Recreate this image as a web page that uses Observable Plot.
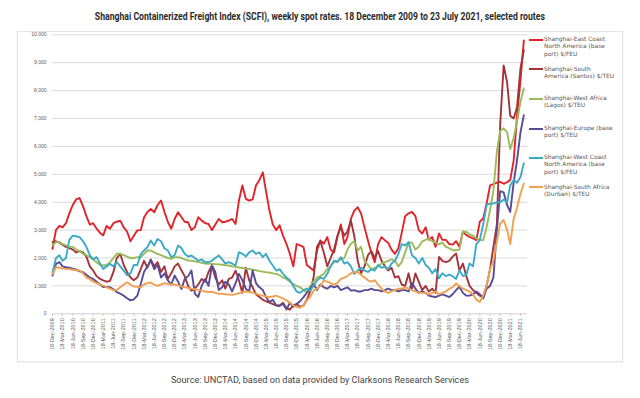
<!DOCTYPE html>
<html><head><meta charset="utf-8">
<script src="https://cdn.jsdelivr.net/npm/d3@7"></script>
<script src="https://cdn.jsdelivr.net/npm/@observablehq/plot@0.6"></script>
<style>
body{margin:0;background:#fff;}
#wrap{position:relative;width:640px;height:398px;overflow:hidden;font-family:"Liberation Sans",Arial,sans-serif;}
#title{position:absolute;left:0;top:6px;width:640px;text-align:center;white-space:nowrap;}
#title span{display:inline-block;font-family:"Liberation Sans Narrow","Roboto",sans-serif;font-weight:bold;font-size:10.5px;color:#2b2b2b;transform-origin:center;}
#box{position:absolute;left:17px;top:31px;width:604px;height:329px;border:1px solid #e4e4e4;box-shadow:0 1px 2px rgba(0,0,0,0.06);}
#chart{position:absolute;left:0;top:0;}
#legend{position:absolute;left:0;top:0;}
.sw{position:absolute;left:529px;width:14px;height:2px;}
.lt{position:absolute;left:544px;font-family:"DejaVu Sans",sans-serif;font-size:5.9px;line-height:7.3px;color:#595959;white-space:nowrap;}
#caption{position:absolute;left:0;top:369px;width:640px;text-align:center;white-space:nowrap;}
#caption span{display:inline-block;font-family:"Roboto",sans-serif;font-size:9.5px;color:#444;transform-origin:center;}
</style>
</head><body>
<div id="wrap">
  <div id="box"></div>
  <div id="chart"></div>
  <div id="legend"></div>
  <div id="title"><span>Shanghai Containerized Freight Index (SCFI), weekly spot rates. 18 December 2009 to 23 July 2021, selected routes</span></div>
  <div id="caption"><span>Source: UNCTAD, based on data provided by Clarksons Research Services</span></div>
</div>
<script>
// Series names (legend)
const seriesNames = [
  "Shanghai-East Coast North America (base port) $/FEU",
  "Shanghai-South America (Santos) $/TEU",
  "Shanghai-West Africa (Lagos) $/TEU",
  "Shanghai-Europe (base port) $/TEU",
  "Shanghai-West Coast North America (base port) $/FEU",
  "Shanghai-South Africa (Durban) $/TEU"
];
const legendLines = [
  ["Shanghai-East Coast", "North America (base", "port) $/FEU"],
  ["Shanghai-South", "America (Santos) $/TEU"],
  ["Shanghai-West Africa", "(Lagos) $/TEU"],
  ["Shanghai-Europe (base", "port) $/TEU"],
  ["Shanghai-West Coast", "North America (base", "port) $/FEU"],
  ["Shanghai-South Africa", "(Durban) $/TEU"]
];
const seriesColors = ["#e2242a", "#a3343a", "#9bbb59", "#5a4b96", "#3aaac6", "#f0a04e"];

// Approximate monthly readings, Dec 2009 – Jul 2021 (USD)
const eastCoastNA = [
  2330,3000,3150,3100,3250,3600,3900,4100,4150,3850,
  3500,3200,3250,3050,2900,2810,3150,3050,3250,3300,
  3340,3100,2950,2600,2800,2990,3000,3450,3650,3760,
  3640,3900,4060,3650,3300,3050,3400,3640,3460,3300,
  3280,3000,3100,3460,3340,3250,3220,3000,3200,3400,
  3280,3300,3340,3400,3220,4060,4600,4120,4060,4100,
  4600,4800,5070,4400,3700,3200,3000,3170,2800,2500,
  2150,1700,2500,2450,2390,1750,1650,1550,2270,2630,
  2510,2750,2300,2200,2750,3200,2500,2750,3400,3700,
  3820,3600,3100,2630,2200,1850,2500,2750,2630,2550,
  2300,2150,2350,2900,3500,3600,3650,3500,3000,2880,
  3100,2650,2750,2400,2880,2650,2650,2500,2480,2600,
  2400,2940,2820,2760,2700,2640,3300,3420,3950,4600,
  4650,4700,4730,4660,4720,4790,5500,7100,8350,9800
];
const southAmerica = [
  2570,2600,2550,2480,2400,2350,2300,2200,2250,2200,
  2050,1700,1550,1350,1250,1200,1150,1180,1500,2000,
  2150,1750,1500,1300,1200,1300,1600,1900,1650,1950,
  1700,1850,1500,1700,1250,1450,1700,1800,1550,1350,
  1000,830,900,1050,1250,1150,1500,1730,1300,1050,
  1200,900,1250,1300,1550,1200,750,1650,1200,950,
  700,600,500,450,400,350,300,300,400,200,
  150,300,350,250,300,500,800,1300,2400,2600,
  2200,1700,2000,2300,2800,3100,2800,2950,3340,2800,
  1900,1450,1700,2100,2250,2000,2250,1900,1700,1550,
  1650,1300,1350,1050,1000,1450,900,1450,1150,850,
  1000,800,900,750,2040,1900,1850,1900,2050,2160,
  1550,1800,1350,1000,850,750,650,600,1000,1600,
  2400,3200,6800,8900,8300,7100,7000,7400,8800,9450
];
const westAfrica = [
  2450,2570,2570,2500,2450,2400,2400,2300,2250,2150,
  2100,2030,1950,1850,1750,1730,1750,1850,2000,2150,
  2150,2100,2050,2000,2000,2030,2030,2150,2270,2270,
  2200,2150,2100,2050,2000,1970,2030,2030,2000,1950,
  1910,1900,1880,1850,1830,1800,1790,1790,1780,1770,
  1760,1740,1730,1700,1680,1660,1640,1620,1610,1580,
  1560,1530,1510,1490,1480,1450,1430,1380,1300,1250,
  1150,1070,1000,950,850,780,1000,1150,1300,1350,
  1430,1600,1700,1850,1900,1950,2000,2300,2510,2600,
  2270,2400,1900,1750,1600,1650,1700,1800,1850,1900,
  1950,1900,1700,1850,2200,2550,2550,2300,2400,2600,
  2650,2700,2600,2550,2500,2550,2400,2350,2280,2280,
  2300,2940,2940,2850,2800,2700,2650,2640,3100,3720,
  4400,5800,6550,6650,6500,5900,6300,6900,7600,8080
];
const europe = [
  1370,1790,1850,1700,1670,1650,1620,1580,1520,1490,
  1400,1300,1250,1150,1050,960,960,950,880,780,
  720,650,560,480,520,650,1070,1500,1700,1910,
  1600,1750,1300,1450,1200,1050,1370,1150,890,1250,
  1350,1550,720,600,1000,1250,1000,1730,1500,850,
  950,1150,1050,800,1100,1430,1200,900,800,1550,
  1100,950,850,600,420,500,300,280,350,150,
  400,250,350,450,600,750,900,1070,850,1050,
  950,900,1000,950,1000,850,900,950,830,850,
  800,800,850,850,900,850,850,800,850,900,
  850,850,800,850,850,800,1100,900,750,800,
  750,650,620,600,650,700,650,600,700,850,
  970,750,650,650,700,800,700,550,900,1000,
  1300,3000,4400,4350,3900,3650,4700,5500,6500,7120
];
const westCoastNA = [
  1490,1990,2100,1900,2000,2650,2800,2780,2750,2600,
  2400,2100,1950,2030,1800,1610,1700,1790,1700,1850,
  1700,1550,1380,1450,1750,1750,2140,2270,2390,2630,
  2450,2680,2600,2350,2270,2030,2100,2450,2350,2150,
  2050,2090,2000,1900,1950,1850,1850,1900,2000,2090,
  1950,1800,1850,1800,1730,2210,2150,2050,2200,2270,
  2150,2200,2030,2150,1900,1730,1550,1600,1430,1300,
  1200,1000,800,750,850,900,830,1000,1190,1300,
  1250,1430,1700,1910,1850,2030,1800,1850,1700,1430,
  1550,1650,1550,1500,1600,1550,1750,1650,1700,1600,
  1800,1900,2150,2500,2450,2570,2100,2000,1800,2000,
  1750,1650,1450,1600,1270,1450,1350,1400,1350,1250,
  1560,1350,1400,1800,1700,2500,2640,3200,3900,3950,
  3950,4000,4000,4100,4000,4600,4800,4700,4900,5400
];
const southAfrica = [
  1430,1670,1650,1620,1610,1600,1580,1560,1550,1450,
  1300,1250,1150,1100,1050,1010,950,900,850,850,
  950,1050,1130,1050,980,970,950,1050,1100,1120,
  1050,1000,1050,1100,1070,1050,1050,1020,980,950,
  930,900,880,850,830,800,780,790,750,720,
  720,700,690,680,700,740,780,800,780,760,
  720,680,650,620,600,620,650,600,550,480,
  400,300,240,220,300,480,600,830,900,1000,
  1190,1150,1100,1050,1100,1250,1300,1350,1450,1500,
  1490,1400,1300,1200,1150,1200,1050,900,800,750,
  800,850,900,900,950,900,850,800,750,750,
  750,700,750,800,700,750,800,900,950,1090,
  1000,900,850,800,700,500,430,650,1000,1600,
  1900,2600,3240,3360,3000,2500,3400,3800,4300,4670
];
const yTickValues = [0,1000,2000,3000,4000,5000,6000,7000,8000,9000,10000];

const allSeries = [eastCoastNA, southAmerica, westAfrica, europe, westCoastNA, southAfrica];
const start = new Date(Date.UTC(2009, 11, 18));
const dates = eastCoastNA.map((_, i) => d3.utcMonth.offset(start, i));
const xTicks = d3.range(47).map(i => d3.utcMonth.offset(start, 3 * i));
const rows = [];
allSeries.forEach((arr, s) => arr.forEach((v, i) => rows.push({date: dates[i], value: v, series: seriesNames[s]})));

const chart = Plot.plot({
  width: 640,
  height: 360,
  marginTop: 34.3,
  marginBottom: 46.7,
  marginLeft: 52,
  marginRight: 113,
  style: {background: "transparent", fontFamily: "Liberation Sans, Arial, sans-serif", color: "#595959", overflow: "visible"},
  x: {type: "utc", domain: [start, new Date(Date.UTC(2021, 7, 20))]},
  y: {domain: [0, 10000]},
  color: {domain: seriesNames, range: seriesColors},
  marks: [
    Plot.gridY(yTickValues.filter(d => d > 0), {stroke: "#d9d9d9", strokeOpacity: 1}),
    Plot.ruleY([0], {stroke: "#d0d0d0"}),
    Plot.lineY(rows, {x: "date", y: "value", z: "series", stroke: "series", strokeWidth: 1.9, strokeLinejoin: "round"}),
    Plot.axisY(yTickValues, {tickSize: 0, tickPadding: 6, fontSize: 5, tickFormat: d3.format(","), label: null, fill: "#595959"}),
    Plot.axisX(xTicks, {tickSize: 2.5, tickPadding: 2, tickRotate: -90, fontSize: 5.5, tickFormat: d3.utcFormat("%d-%b-%Y"), label: null, stroke: "#c8c8c8", fill: "#595959"})
  ]
});
document.getElementById("chart").appendChild(chart);

// Legend
const legendY = [40, 69.4, 99, 128.6, 158, 187.4];
const legend = document.getElementById("legend");
legendLines.forEach((lines, i) => {
  const sw = document.createElement("div");
  sw.className = "sw";
  sw.style.top = (legendY[i] - 1) + "px";
  sw.style.background = seriesColors[i];
  legend.appendChild(sw);
  const t = document.createElement("div");
  t.className = "lt";
  t.style.top = (legendY[i] - 3.9) + "px";
  t.innerHTML = lines.join("<br>");
  legend.appendChild(t);
});

// fit title / caption widths
function fit(sel, w) {
  const el = document.querySelector(sel);
  const cw = el.getBoundingClientRect().width;
  el.style.transform = "scaleX(" + (w / cw) + ")";
}
fit("#title span", 450);
fit("#caption span", 298);
</script>
</body></html>
